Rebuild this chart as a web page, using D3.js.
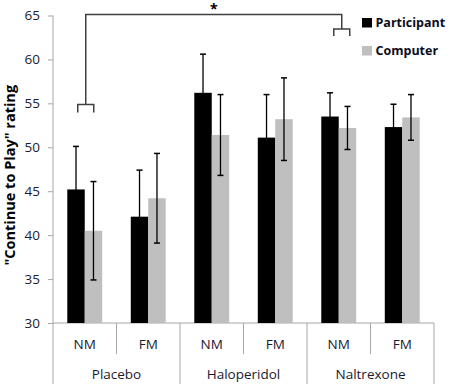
<!DOCTYPE html>
<html>
<head>
<meta charset="utf-8">
<script src="https://cdn.jsdelivr.net/npm/d3@7/dist/d3.min.js"></script>
<style>
  body { margin: 0; background: #fff; }
  text { font-family: "Open Sans", "Liberation Sans", sans-serif; }
</style>
</head>
<body>
<div id="chart"></div>
<script>
// data
var drugs = ['Placebo', 'Haloperidol', 'Naltrexone']
var conditions = ['NM', 'FM']
var seriesNames = ['Participant', 'Computer']
var participantMean = [45.2, 42.1, 56.2, 51.1, 53.5, 52.3]
var participantErr = [4.9, 5.3, 4.4, 4.9, 2.7, 2.6]
var computerMean = [40.5, 44.2, 51.4, 53.2, 52.2, 53.4]
var computerErr = [5.6, 5.1, 4.6, 4.7, 2.45, 2.6]
var yTicks = [30, 35, 40, 45, 50, 55, 60, 65]

var width = 454
var height = 388
var margin = { top: 15.5, left: 53, bottom: 65, right: 20 }
var chartWidth = width - margin.left - margin.right
var chartHeight = height - margin.top - margin.bottom
var colors = { Participant: '#000000', Computer: '#bfbfbf' }
var axisColor = '#a6a6a6'

var svg = d3.select('#chart').append('svg')
  .attr('width', width)
  .attr('height', height)

var g = svg.append('g')
  .attr('transform', 'translate(' + margin.left + ',' + margin.top + ')')

// one slot per drug x condition
var slots = []
drugs.forEach(function (d) {
  conditions.forEach(function (c) {
    slots.push(d + '|' + c)
  })
})

var x = d3.scaleBand()
  .domain(slots)
  .range([0, chartWidth])

var xInner = d3.scaleBand()
  .domain(seriesNames)
  .range([0, x.bandwidth()])
  .paddingOuter(0.45 / 0.55 * 0.5)

var barW = x.bandwidth() * 0.275
var y = d3.scaleLinear()
  .domain([30, 65])
  .range([chartHeight, 0])

var rows = slots.map(function (s, i) {
  return {
    slot: s,
    values: [
      { key: 'Participant', mean: participantMean[i], err: participantErr[i] },
      { key: 'Computer', mean: computerMean[i], err: computerErr[i] }
    ]
  }
})

// y axis
var gY = g.append('g')
  .attr('class', 'y axis')
  .call(d3.axisLeft(y).tickValues(yTicks).tickSize(5).tickPadding(8))
gY.select('.domain').remove()
gY.selectAll('.tick line').attr('stroke', axisColor)
gY.selectAll('.tick text')
  .attr('fill', '#1a1a2e')
  .style('font-size', '13.5px')

g.append('line')
  .attr('x1', 0).attr('x2', 0)
  .attr('y1', 0).attr('y2', chartHeight + 61)
  .attr('stroke', axisColor)

// x axis: baseline, dividers
g.append('line')
  .attr('x1', 0).attr('x2', chartWidth)
  .attr('y1', chartHeight).attr('y2', chartHeight)
  .attr('stroke', axisColor)

slots.forEach(function (s, i) {
  var xr = x(s) + x.bandwidth()
  var groupEnd = (i % 2 === 1)
  g.append('line')
    .attr('x1', xr).attr('x2', xr)
    .attr('y1', chartHeight)
    .attr('y2', chartHeight + (groupEnd ? 61 : 31))
    .attr('stroke', axisColor)
  g.append('text')
    .attr('x', x(s) + x.bandwidth() / 2)
    .attr('y', chartHeight + 26)
    .attr('text-anchor', 'middle')
    .attr('fill', '#1a1a2e')
    .style('font-size', '13.5px')
    .text(s.split('|')[1])
})

drugs.forEach(function (d) {
  var x0 = x(d + '|NM')
  var x1 = x(d + '|FM') + x.bandwidth()
  g.append('text')
    .attr('x', (x0 + x1) / 2)
    .attr('y', chartHeight + 56)
    .attr('text-anchor', 'middle')
    .attr('fill', '#1a1a2e')
    .style('font-size', '13.5px')
    .text(d)
})

// bars
var gSlot = g.selectAll('g.slot')
    .data(rows)
  .enter().append('g')
    .attr('class', 'slot')
    .attr('transform', function (d) { return 'translate(' + (x(d.slot) + x.bandwidth() / 2) + ',0)' })

gSlot.selectAll('rect')
    .data(function (d) { return d.values })
  .enter().append('rect')
    .attr('x', function (d, i) { return i === 0 ? -barW : 0 })
    .attr('y', function (d) { return y(d.mean) })
    .attr('width', barW)
    .attr('height', function (d) { return chartHeight - y(d.mean) })
    .attr('fill', function (d) { return colors[d.key] })

// error bars
var gErr = gSlot.selectAll('g.err')
    .data(function (d) { return d.values })
  .enter().append('g')
    .attr('class', 'err')
    .attr('transform', function (d, i) { return 'translate(' + (i === 0 ? -barW / 2 : barW / 2) + ',0)' })

gErr.append('line')
  .attr('x1', 0).attr('x2', 0)
  .attr('y1', function (d) { return y(d.mean + d.err) })
  .attr('y2', function (d) { return y(d.mean - d.err) })
  .attr('stroke', '#000').attr('stroke-width', 1.3)

gErr.selectAll('line.cap')
    .data(function (d) { return [d.mean + d.err, d.mean - d.err] })
  .enter().append('line')
    .attr('class', 'cap')
    .attr('x1', -3).attr('x2', 3)
    .attr('y1', function (v) { return y(v) })
    .attr('y2', function (v) { return y(v) })
    .attr('stroke', '#000').attr('stroke-width', 1.5)

// significance bracket
var leftC = x('Placebo|NM') + x.bandwidth() / 2 + 1
var rightC = x('Naltrexone|NM') + x.bandwidth() / 2 + 3
var topY = -1
var leftBrY = 89
var rightBrY = 13.5
var bracketPath = [
  'M', leftC - 8, leftBrY + 8, 'V', leftBrY, 'H', leftC + 8, 'V', leftBrY + 8,
  'M', leftC, leftBrY, 'V', topY, 'H', rightC, 'V', rightBrY,
  'M', rightC - 8, rightBrY + 7, 'V', rightBrY, 'H', rightC + 8, 'V', rightBrY + 7
].join(' ')
g.append('path')
  .attr('d', bracketPath)
  .attr('fill', 'none')
  .attr('stroke', '#404040')
  .attr('stroke-width', 1.5)

g.append('text')
  .attr('x', (leftC + rightC) / 2)
  .attr('y', -1.5)
  .attr('text-anchor', 'middle')
  .attr('fill', '#000')
  .style('font-size', '14px')
  .style('font-weight', 'bold')
  .text('*')

// legend
var legend = svg.append('g')
  .attr('transform', 'translate(362,18)')
seriesNames.forEach(function (s, i) {
  var lg = legend.append('g').attr('transform', 'translate(0,' + (i * 28) + ')')
  lg.append('rect')
    .attr('width', 10).attr('height', 9.5)
    .attr('fill', colors[s])
  lg.append('text')
    .attr('x', 13.5)
    .attr('y', 9)
    .attr('fill', '#0d0d1a')
    .style('font-size', '12.5px')
    .style('font-weight', 'bold')
    .text(s)
})

// y axis title
svg.append('text')
  .attr('transform', 'translate(15,' + (margin.top + chartHeight / 2 + 6) + ') rotate(-90)')
  .attr('text-anchor', 'middle')
  .attr('fill', '#000')
  .style('font-size', '14.5px')
  .style('font-weight', 'bold')
  .text('"Continue to Play" rating')
</script>
</body>
</html>
